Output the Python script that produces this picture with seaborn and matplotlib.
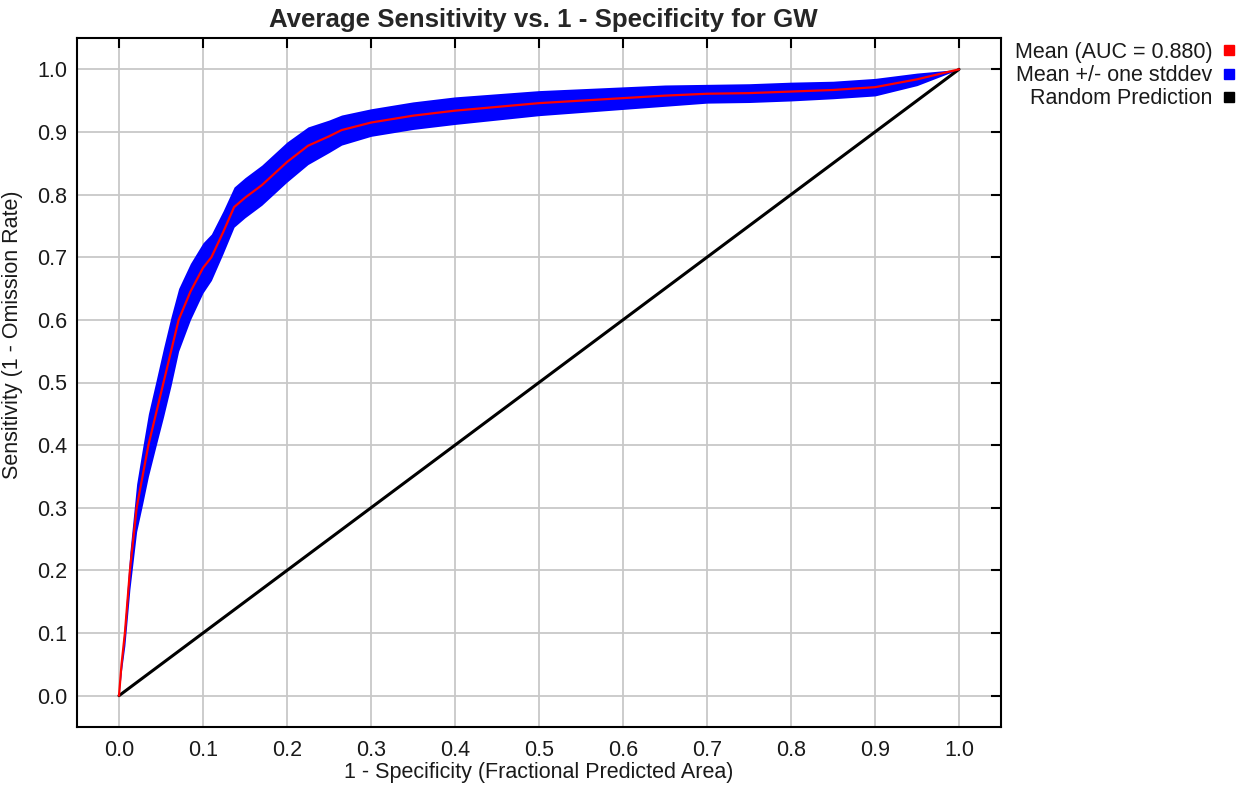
import matplotlib
matplotlib.use("Agg")
import matplotlib.pyplot as plt
from matplotlib.lines import Line2D
import numpy as np
import pandas as pd
import seaborn as sns

# ---- data ----
fpr = [0, 0.003, 0.007, 0.013, 0.021, 0.028, 0.035, 0.044, 0.053, 0.062,
       0.071, 0.085, 0.1, 0.11, 0.124, 0.137, 0.15, 0.17, 0.2, 0.225,
       0.25, 0.265, 0.3, 0.35, 0.4, 0.45, 0.5, 0.55, 0.6, 0.65,
       0.7, 0.75, 0.8, 0.85, 0.9, 0.95, 1.0]
mean_tpr = [0, 0.05, 0.1, 0.2, 0.3, 0.35, 0.4, 0.45, 0.5, 0.55,
            0.6, 0.645, 0.683, 0.7, 0.74, 0.78, 0.795, 0.815, 0.852, 0.878,
            0.893, 0.903, 0.915, 0.926, 0.934, 0.94, 0.946, 0.95, 0.954, 0.958,
            0.961, 0.962, 0.9645, 0.967, 0.9715, 0.984, 1.0]
std_tpr = [0, 0.01, 0.02, 0.03, 0.038, 0.045, 0.05, 0.052, 0.055, 0.055,
           0.05, 0.045, 0.04, 0.037, 0.034, 0.032, 0.032, 0.032, 0.032, 0.03,
           0.026, 0.024, 0.022, 0.022, 0.022, 0.021, 0.02, 0.019, 0.018, 0.017,
           0.015, 0.015, 0.015, 0.014, 0.014, 0.01, 0.0]
random_x = [0.0, 1.0]
random_y = [0.0, 1.0]
ticks = [0.0, 0.1, 0.2, 0.3, 0.4, 0.5, 0.6, 0.7, 0.8, 0.9, 1.0]
tick_labels = ["0.0", "0.1", "0.2", "0.3", "0.4", "0.5", "0.6", "0.7", "0.8", "0.9", "1.0"]
legend_labels = ["Mean (AUC = 0.880)", "Mean +/- one stddev", "Random Prediction"]
legend_colors = ["#ff0000", "#0000ff", "#000000"]
title = "Average Sensitivity vs. 1 - Specificity for GW"
xlabel = "1 - Specificity (Fractional Predicted Area)"
ylabel = "Sensitivity (1 - Omission Rate)"

sns.set_style("white")
plt.rcParams["font.family"] = ["Liberation Sans", "DejaVu Sans"]

df = pd.DataFrame({"fpr": fpr, "mean": mean_tpr, "std": std_tpr})
df["lo"] = df["mean"] - df["std"]
df["hi"] = df["mean"] + df["std"]
rnd = pd.DataFrame({"x": random_x, "y": random_y})

fig, ax = plt.subplots(figsize=(12.46, 7.87), dpi=100)
fig.subplots_adjust(left=77/1246, right=1001/1246, bottom=60/787, top=749/787)

ax.fill_between(df["fpr"], df["lo"], df["hi"], color="#0000ff", linewidth=0, zorder=3)
sns.lineplot(data=df, x="fpr", y="mean", color="#ff0000", linewidth=1.6, ax=ax, zorder=4)
sns.lineplot(data=rnd, x="x", y="y", color="black", linewidth=2.2, ax=ax, zorder=3)

ax.set_xlim(-0.05, 1.05)
ax.set_ylim(-0.05, 1.05)
ax.set_xticks(ticks)
ax.set_xticklabels(tick_labels)
ax.set_yticks(ticks)
ax.set_yticklabels(tick_labels)
ax.grid(True, color="#c8c8c8", linewidth=1.3, zorder=0)
ax.set_axisbelow(True)

for s in ax.spines.values():
    s.set_color("black")
    s.set_linewidth(1.5)
ax.tick_params(axis="both", which="both", direction="in", length=7, width=1.5,
               top=True, right=True, labelsize=15.5, colors="black")
ax.tick_params(axis="x", pad=9)
ax.tick_params(axis="y", pad=7)
for lab in ax.get_xticklabels() + ax.get_yticklabels():
    lab.set_color("#1a1a1a")

ax.set_title(title, fontsize=18.6, fontweight="bold", pad=8, x=0.505)
ax.set_xlabel(xlabel, fontsize=15.5, labelpad=1, color="#1a1a1a")
ax.set_ylabel(ylabel, fontsize=15.5, labelpad=4, color="#1a1a1a")
ax.yaxis.set_label_coords(-0.058, 0.57)

handles = [Line2D([], [], marker="s", linestyle="none", color=c, markersize=7) for c in legend_colors]
leg = fig.legend(handles, legend_labels, loc="upper right",
                 bbox_to_anchor=(1235/1246, 1 - 42/787), frameon=False,
                 markerfirst=False, fontsize=15.5, handlelength=0.6,
                 handletextpad=0.45, labelspacing=0.1, borderpad=0, borderaxespad=0)
for t in leg.get_texts():
    t.set_color("#1a1a1a")

fig.savefig("out.png", dpi=100)
